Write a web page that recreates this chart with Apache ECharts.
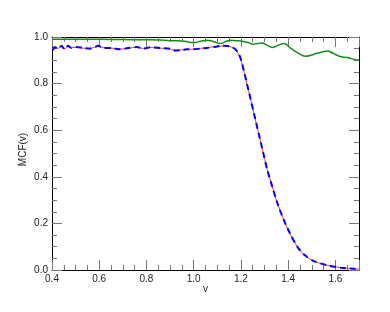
<!DOCTYPE html>
<html><head><meta charset="utf-8">
<script src="https://cdn.jsdelivr.net/npm/echarts@6/dist/echarts.min.js"></script>
<style>html,body{margin:0;padding:0;background:#fff}#c{width:390px;height:312px}</style>
</head><body><div id="c"></div>
<script>
const xTicks = [0.4, 0.6, 0.8, 1.0, 1.2, 1.4, 1.6];
const yTicks = [0.0, 0.2, 0.4, 0.6, 0.8, 1.0];

const greenX = [0.40,0.50,0.60,0.70,0.80,0.86,0.913,0.96,0.998,1.03,1.056,1.085,1.113,1.135,1.155,1.18,1.205,1.23,1.254,1.27,1.29,1.31,1.332,1.355,1.382,1.395,1.41,1.44,1.474,1.50,1.517,1.54,1.566,1.59,1.623,1.651,1.675,1.70];
const greenY = [0.990,0.990,0.990,0.989,0.988,0.987,0.984,0.982,0.976,0.982,0.986,0.980,0.972,0.980,0.986,0.984,0.982,0.976,0.969,0.972,0.974,0.965,0.955,0.963,0.972,0.966,0.952,0.932,0.917,0.923,0.929,0.935,0.940,0.930,0.915,0.912,0.905,0.900];

const mcfX = [0.404,0.411,0.426,0.440,0.454,0.468,0.482,0.504,0.532,0.560,0.581,0.596,0.617,0.652,0.688,0.723,0.759,0.787,0.815,0.858,0.900,0.914,0.943,0.971,0.999,1.028,1.056,1.084,1.120,1.148,1.162,1.176,1.190,1.198,1.205,1.212,1.226,1.240,1.254,1.269,1.283,1.297,1.311,1.332,1.354,1.382,1.410,1.439,1.467,1.509,1.566,1.623,1.679,1.700];
const blueY = [0.943,0.957,0.950,0.962,0.947,0.962,0.953,0.957,0.953,0.950,0.957,0.962,0.953,0.953,0.947,0.953,0.957,0.950,0.956,0.953,0.950,0.942,0.943,0.947,0.947,0.950,0.953,0.957,0.962,0.961,0.957,0.948,0.928,0.910,0.885,0.857,0.797,0.737,0.677,0.612,0.552,0.492,0.432,0.360,0.288,0.214,0.152,0.100,0.066,0.038,0.020,0.010,0.005,0.003];
const redY = [0.941,0.955,0.951,0.960,0.948,0.960,0.954,0.956,0.952,0.951,0.956,0.960,0.954,0.952,0.948,0.952,0.956,0.951,0.955,0.952,0.949,0.943,0.944,0.946,0.948,0.951,0.954,0.958,0.961,0.960,0.956,0.947,0.927,0.909,0.884,0.856,0.797,0.737,0.677,0.612,0.552,0.492,0.432,0.360,0.288,0.214,0.152,0.100,0.066,0.038,0.020,0.010,0.005,0.003];

const zip = (xs, ys) => xs.map((x, i) => [x, ys[i]]);
const font = 'Liberation Sans, Arial, sans-serif';

const axisCommon = {
  type: 'value',
  interval: 0.2,
  axisLine: { show: true, onZero: false, lineStyle: { color: '#000', width: 1 } },
  axisTick: { show: true, inside: true, length: 10, lineStyle: { color: '#777', width: 1 } },
  minorTick: { show: true, splitNumber: 4, length: 5, lineStyle: { color: '#777', width: 1 } },
  splitLine: { show: false },
  minorSplitLine: { show: false }
};

const chart = echarts.init(document.getElementById('c'), null, { renderer: 'canvas' });
chart.setOption({
  animation: false,
  backgroundColor: '#fff',
  grid: { left: 52, right: 31, top: 37, bottom: 42, containLabel: false },
  xAxis: [
    Object.assign({}, axisCommon, {
      min: 0.4, max: 1.7, position: 'bottom',
      name: 'v', nameLocation: 'middle', nameGap: 14, nameMoveOverlap: false,
      nameTextStyle: { fontFamily: font, fontSize: 10, color: '#222' },
      axisLabel: { show: true, margin: 4, fontFamily: font, fontSize: 10, color: '#222',
        formatter: v => { const t = xTicks.find(k => Math.abs(k - v) < 1e-6); return t === undefined ? '' : t.toFixed(1); } }
    }),
    Object.assign({}, axisCommon, {
      min: 0.4, max: 1.7, position: 'top', axisLabel: { show: false }
    })
  ],
  yAxis: [
    Object.assign({}, axisCommon, {
      min: 0, max: 1.0, position: 'left',
      name: 'MCF(v)', nameLocation: 'middle', nameGap: 24, nameRotate: 90, nameMoveOverlap: false,
      nameTextStyle: { fontFamily: font, fontSize: 10, color: '#222', padding: [0, 0, 0, 8] },
      axisLabel: { show: true, margin: 4, fontFamily: font, fontSize: 10, color: '#222',
        formatter: v => { const t = yTicks.find(k => Math.abs(k - v) < 1e-6); return t === undefined ? '' : t.toFixed(1); } }
    }),
    Object.assign({}, axisCommon, {
      min: 0, max: 1.0, position: 'right', axisLabel: { show: false }
    })
  ],
  series: [
    { type: 'line', xAxisIndex: 0, yAxisIndex: 0, data: zip(greenX, greenY), symbol: 'none', smooth: 0.4,
      lineStyle: { color: '#1a8a1a', width: 1.5 }, z: 2 },
    { type: 'line', xAxisIndex: 0, yAxisIndex: 0, data: zip(mcfX, redY), symbol: 'none', smooth: 0.25,
      lineStyle: { color: '#ff3030', width: 1 }, z: 3 },
    { type: 'line', xAxisIndex: 0, yAxisIndex: 0, data: zip(mcfX, blueY), symbol: 'none', smooth: 0.25,
      lineStyle: { color: '#0000ff', width: 2, type: [6, 4] }, z: 4 }
  ]
});
</script></body></html>
